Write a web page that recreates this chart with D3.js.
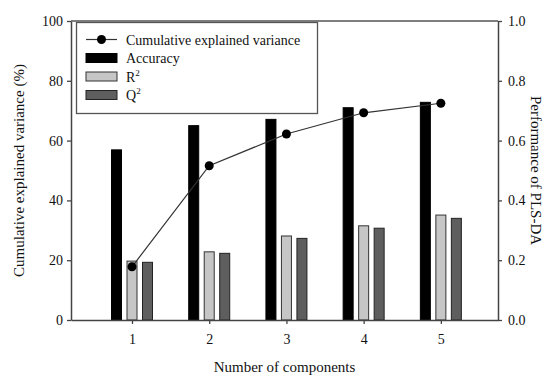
<!DOCTYPE html>
<html><head><meta charset="utf-8">
<script src="https://cdn.jsdelivr.net/npm/d3@7/dist/d3.min.js"></script>
</head><body style="margin:0;background:#fff">
<script>
const components = [1, 2, 3, 4, 5];
const cumVariance = [17.8, 51.6, 62.2, 69.3, 72.5];
const accuracy = [0.569, 0.650, 0.671, 0.710, 0.728];
const r2 = [0.197, 0.228, 0.281, 0.315, 0.351];
const q2 = [0.193, 0.223, 0.273, 0.307, 0.340];
const leftTicks = [0, 20, 40, 60, 80, 100];
const rightTicks = [0, 0.2, 0.4, 0.6, 0.8, 1.0];

const FONT = "'Liberation Serif'";
const W = 555, H = 375;
const m = {l: 71, r: 57, t: 21, b: 55};
const svg = d3.select("body").append("svg").attr("width", W).attr("height", H)
  .style("display", "block").attr("font-family", "Liberation Serif");
const x = d3.scaleLinear().domain([0.21, 5.74]).range([m.l, W - m.r]);
const yL = d3.scaleLinear().domain([0, 100]).range([H - m.b, m.t]);
const yR = d3.scaleLinear().domain([0, 1]).range([H - m.b, m.t]);
const bw = 10, off = 15.5;

const series = [
  {name: "Accuracy", vals: accuracy, dx: -off, fill: "#000", stroke: "#000"},
  {name: "R2", vals: r2, dx: 0, fill: "#c6c6c6", stroke: "#333"},
  {name: "Q2", vals: q2, dx: off, fill: "#5e5e5e", stroke: "#222"}
];
series.forEach(s => {
  svg.append("g").selectAll("rect").data(components).join("rect")
    .attr("x", (c) => x(c) + s.dx - bw / 2)
    .attr("y", (c, i) => yR(s.vals[i]))
    .attr("width", bw)
    .attr("height", (c, i) => yR(0) - yR(s.vals[i]))
    .attr("fill", s.fill).attr("stroke", s.stroke).attr("stroke-width", 1);
});

svg.append("path").datum(components)
  .attr("d", d3.line().x(c => x(c)).y((c, i) => yL(cumVariance[i])))
  .attr("fill", "none").attr("stroke", "#333").attr("stroke-width", 1.2);
svg.append("g").selectAll("circle").data(components).join("circle")
  .attr("cx", c => x(c)).attr("cy", (c, i) => yL(cumVariance[i])).attr("r", 4.5).attr("fill", "#000");

svg.append("line").attr("x1", m.l).attr("x2", W - m.r).attr("y1", m.t).attr("y2", m.t).attr("stroke", "#555").attr("stroke-width", 1.3);

const axisStyle = g => {
  g.attr("font-family", null).attr("font-size", null);
  g.selectAll(".domain").attr("stroke", "#444").attr("stroke-width", 1.5);
  g.selectAll(".tick line").attr("stroke", "#444").attr("stroke-width", 1.3);
  g.selectAll("text").style("font-family", FONT).style("font-size", "14px").attr("fill", "#111");
};
svg.append("g").attr("transform", `translate(${m.l},0)`)
  .call(d3.axisLeft(yL).tickValues(leftTicks).tickSize(4).tickPadding(4).tickSizeOuter(0)).call(axisStyle);
svg.append("g").attr("transform", `translate(${W - m.r},0)`)
  .call(d3.axisRight(yR).tickValues(rightTicks).tickFormat(d3.format(".1f")).tickSize(4).tickPadding(6).tickSizeOuter(0)).call(axisStyle);
svg.append("g").attr("transform", `translate(0,${H - m.b})`)
  .call(d3.axisBottom(x).tickValues(components).tickFormat(d3.format("d")).tickSize(4).tickPadding(10).tickSizeOuter(0)).call(axisStyle);

const txt = (sel) => sel.style("font-family", FONT).attr("fill", "#111");
txt(svg.append("text").attr("x", (m.l + W - m.r) / 2).attr("y", 372).attr("text-anchor", "middle").style("font-size", "15px").text("Number of components"));
txt(svg.append("text").attr("transform", `translate(24,${(m.t + H - m.b) / 2}) rotate(-90)`).attr("text-anchor", "middle").style("font-size", "15px").text("Cumulative explained variance (%)"));
txt(svg.append("text").attr("transform", `translate(531,${(m.t + H - m.b) / 2}) rotate(90)`).attr("text-anchor", "middle").style("font-size", "15px").text("Performance of PLS-DA"));

const lg = svg.append("g");
lg.append("rect").attr("x", 76.5).attr("y", 22.5).attr("width", 241).attr("height", 91).attr("fill", "#fff").attr("stroke", "#555").attr("stroke-width", 1.3);
const rows = [39.5, 58, 76.5, 95];
lg.append("line").attr("x1", 86).attr("x2", 117).attr("y1", rows[0]).attr("y2", rows[0]).attr("stroke", "#333").attr("stroke-width", 1.2);
lg.append("circle").attr("cx", 101.5).attr("cy", rows[0]).attr("r", 4.5).attr("fill", "#000");
series.forEach((s, i) => {
  lg.append("rect").attr("x", 86).attr("y", rows[i + 1] - 4.5).attr("width", 31).attr("height", 9)
    .attr("fill", s.fill).attr("stroke", s.stroke).attr("stroke-width", 1);
});
const labels = ["Cumulative explained variance", "Accuracy", "R", "Q"];
labels.forEach((t, i) => {
  const tx = txt(lg.append("text").attr("x", 126).attr("y", rows[i] + 5).style("font-size", "14px").text(t));
  if (i >= 2) tx.append("tspan").attr("dy", -6).style("font-size", "9px").text("2");
});
</script>
</body></html>
